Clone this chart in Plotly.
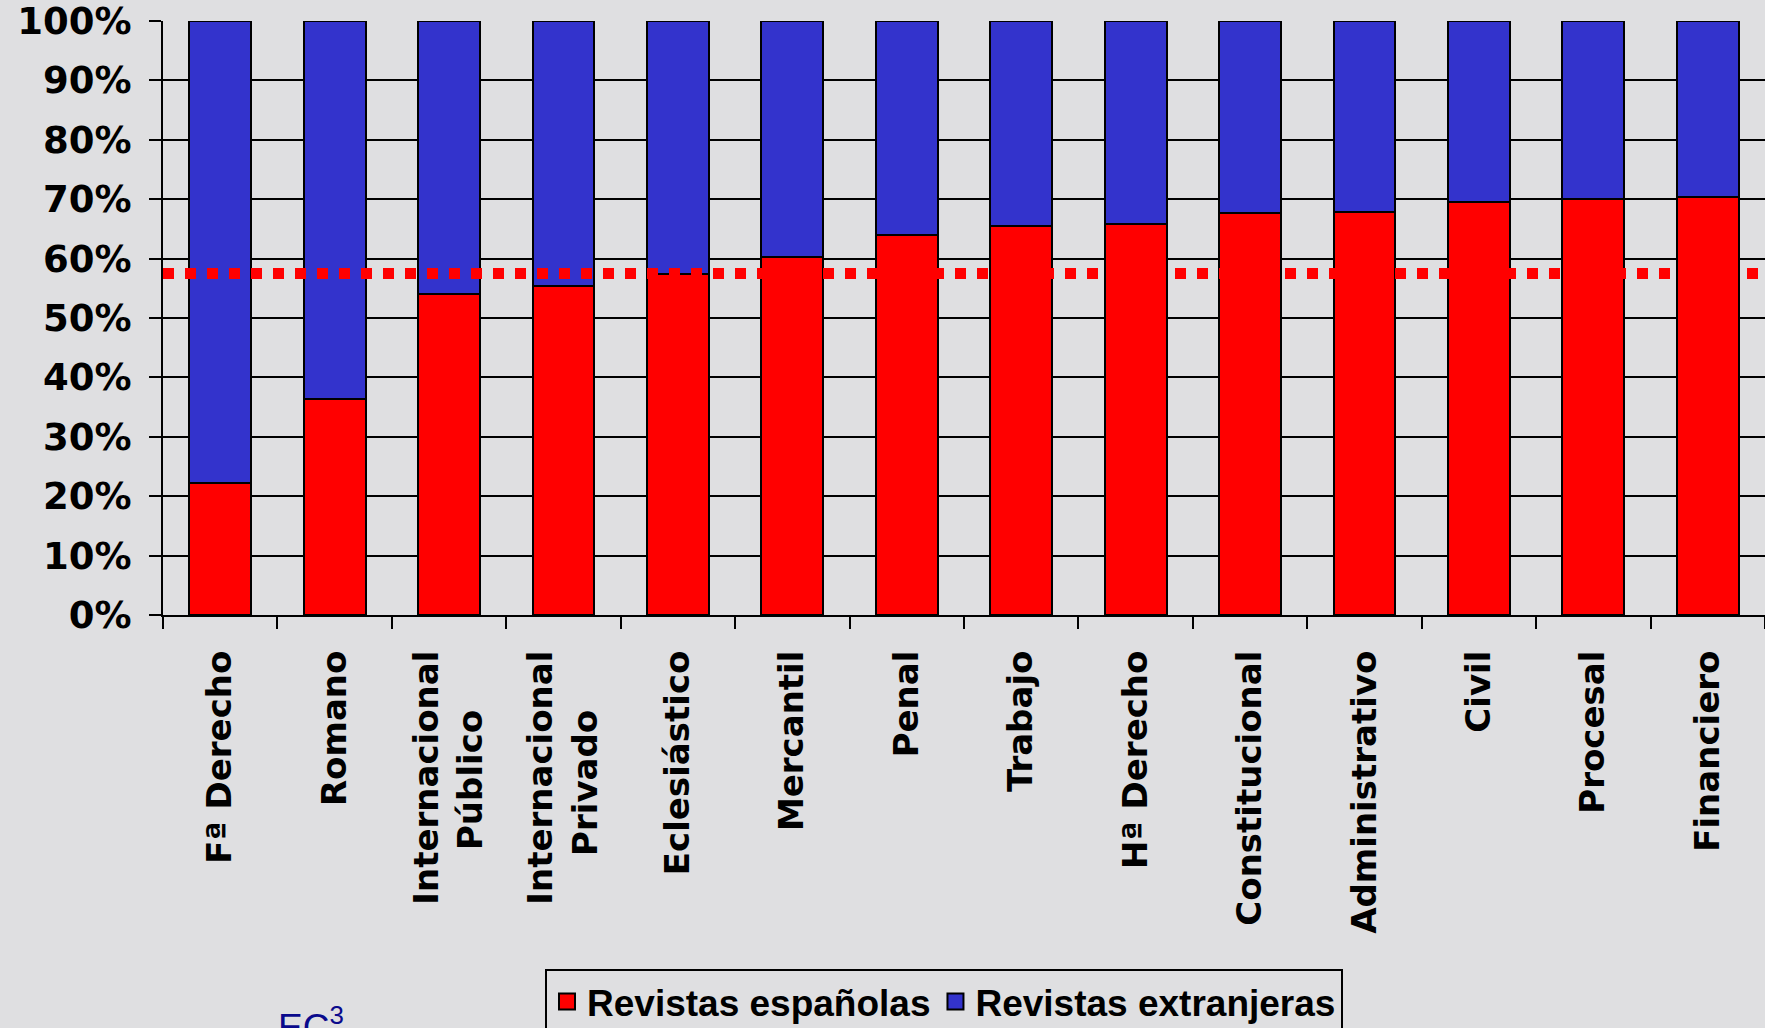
import plotly.graph_objects as go

categorias = ["Fª Derecho", "Romano", "Internacional<br>Público", "Internacional<br>Privado",
              "Eclesiástico", "Mercantil", "Penal", "Trabajo", "Hª Derecho",
              "Constitucional", "Administrativo", "Civil", "Procesal", "Financiero"]
revistas_espanolas = [22.3, 36.4, 54.0, 55.4, 57.4, 60.2, 63.9, 65.5, 65.9, 67.6, 67.9, 69.6, 70.0, 70.4]
revistas_extranjeras = [round(100 - v, 1) for v in revistas_espanolas]
media = 57.5
y_ticks = [0, 10, 20, 30, 40, 50, 60, 70, 80, 90, 100]
y_labels = [f"{v}%" for v in y_ticks]

ROJO = "#FF0000"
AZUL = "#3333CC"
FONDO = "#DFDFE1"


def centrar(etiqueta):
    # centre the shorter second line of a two-line rotated label under the first
    partes = etiqueta.split("<br>")
    if len(partes) == 2:
        a, b = partes
        n = round((len(a) - len(b)) * 0.9)
        return a + "<br>" + b + "\u00a0" * n
    return etiqueta


etiquetas = [centrar(c) for c in categorias]

fig = go.Figure()
fig.add_trace(go.Bar(x=categorias, y=revistas_espanolas, name="Revistas españolas",
                     marker=dict(color=ROJO, line=dict(color="black", width=2)),
                     width=0.54, showlegend=False))
fig.add_trace(go.Bar(x=categorias, y=revistas_extranjeras, name="Revistas extranjeras",
                     marker=dict(color=AZUL, line=dict(color="black", width=2)),
                     width=0.54, showlegend=False))
# legend entries
for nombre, color in [("Revistas españolas", ROJO), ("Revistas extranjeras", AZUL)]:
    fig.add_trace(go.Scatter(x=[None], y=[None], mode="markers", name=nombre,
                             marker=dict(symbol="square", size=16, color=color,
                                         line=dict(color="black", width=2))))

fig.add_shape(type="line", xref="paper", x0=0, x1=1, yref="y", y0=media, y1=media,
              line=dict(color=ROJO, width=11, dash="dot"), layer="above")

fig.add_annotation(text="EC<sup>3</sup>", xref="paper", yref="paper",
                   x=(276 - 163) / 1602, y=(615 - 999) / 594, xanchor="left", yanchor="top",
                   showarrow=False, font=dict(family="Liberation Sans", size=37, color="#0A0A8C"))

fig.update_layout(
    width=1765, height=1028,
    margin=dict(l=163, r=0, t=21, b=413, autoexpand=False),
    paper_bgcolor=FONDO, plot_bgcolor=FONDO,
    barmode="stack",
    legend=dict(orientation="h", x=(545 - 163) / 1602, y=(615 - 969) / 594,
                xanchor="left", yanchor="top", traceorder="normal",
                font=dict(family="Liberation Sans", size=37, color="black", weight="bold"),
                bordercolor="black", borderwidth=2, bgcolor=FONDO),
    xaxis=dict(type="category", tickmode="array", tickvals=categorias, ticktext=etiquetas,
               tickson="boundaries", ticks="outside", ticklen=12, automargin=False,
               tickwidth=2, tickcolor="black", showgrid=False, showline=True,
               linecolor="black", linewidth=2, tickangle=-90, ticklabelstandoff=20,
               tickfont=dict(family="DejaVu Sans", size=34, color="black", weight="bold")),
    yaxis=dict(range=[0, 100], tickvals=y_ticks, ticktext=y_labels, ticks="outside",
               ticklen=12, tickwidth=2, tickcolor="black", showgrid=True, gridcolor="black",
               gridwidth=2, showline=True, linecolor="black", linewidth=2, zeroline=False,
               ticklabelstandoff=10, ticklabeloverflow="allow", automargin=False,
               tickfont=dict(family="DejaVu Sans", size=37, color="black", weight="bold")),
)

fig.write_html("out.html", config={"displayModeBar": False},
               post_script="document.body.style.margin='0';document.body.style.background='" + FONDO + "';")
